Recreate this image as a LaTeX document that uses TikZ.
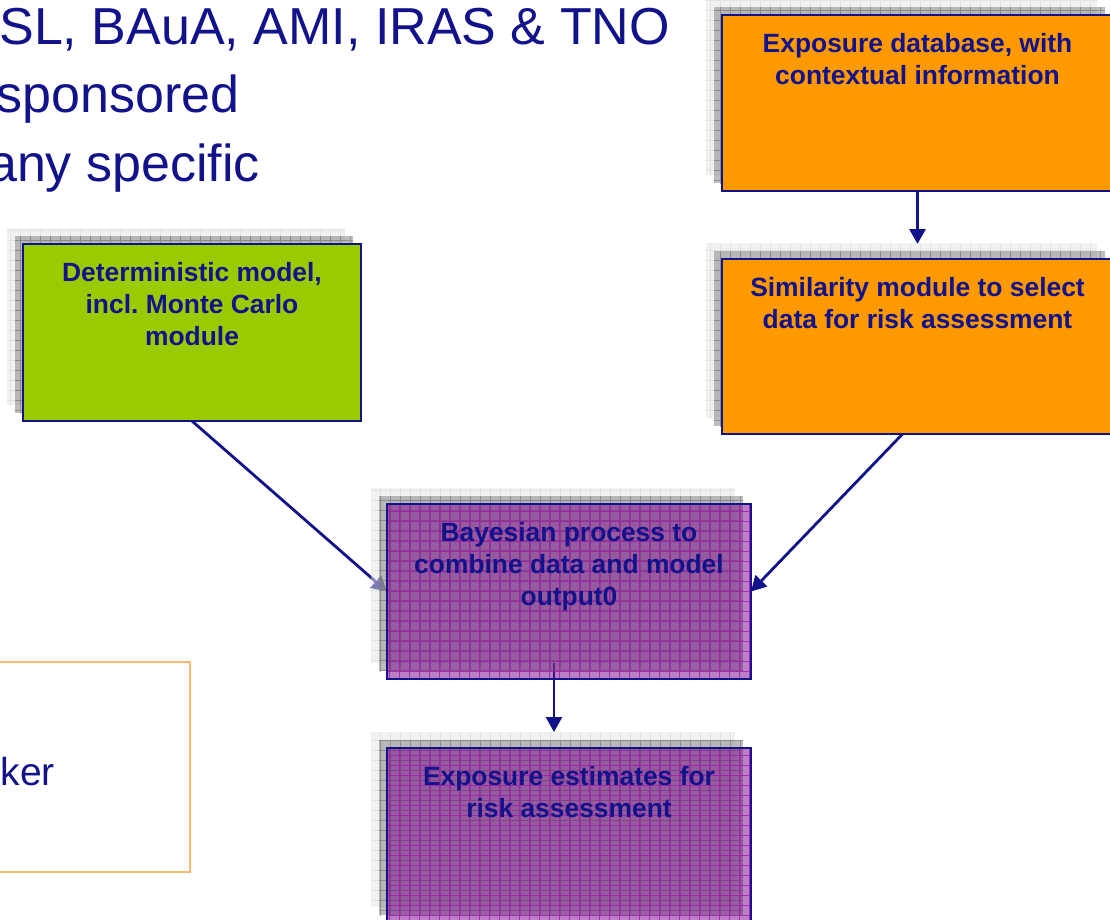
\documentclass[tikz,border=0pt]{standalone}
\usepackage{fontspec}
\setmainfont{Liberation Sans}
\usetikzlibrary{arrows.meta,calc}

\definecolor{navy}{RGB}{18,18,138}
\definecolor{orangefill}{RGB}{255,153,0}
\definecolor{greenfill}{RGB}{153,204,0}
\definecolor{plum}{RGB}{120,0,135}
\definecolor{plumgrid}{RGB}{165,25,175}
\definecolor{shadowlight}{RGB}{228,228,228}
\definecolor{shadowlightgrid}{RGB}{210,210,210}
\definecolor{shadowdark}{RGB}{125,125,125}
\definecolor{shadowdarkgrid}{RGB}{105,105,105}
\definecolor{noteline}{RGB}{255,185,115}

\pgfdeclarelayer{links}
\pgfsetlayers{links,main}

\tikzset{
  panel/.style={draw=navy, line width=2.4pt, inner sep=0pt, outer sep=0pt},
  orangebox/.style={panel, fill=orangefill},
  greenbox/.style={panel, fill=greenfill},
  plumbox/.style={panel, fill=plum, fill opacity=0.5,
    path picture={\draw[plumgrid, line width=0.8pt, draw opacity=0.8,
        xstep=10pt, ystep=10pt]
      ([shift={(-10pt,-10pt)}]path picture bounding box.south west) grid
      ([shift={(10pt,10pt)}]path picture bounding box.north east);}},
  hatch/.style={line width=0.7pt, xstep=10pt, ystep=10pt},
  paneltext/.style={text=navy, font=\bfseries\fontsize{26.4}{32}\selectfont,
    align=center, inner sep=0pt, anchor=north},
  bigtext/.style={text=navy, font=\fontsize{52}{62}\selectfont, inner sep=0pt},
  link/.style={draw=navy, line width=2.8pt,
    -{Triangle[length=15pt,width=16pt]}},
}

% a box with its two hatched drop shadows and its caption
\newcommand\panel[7]{%
  \path[fill=shadowlight, opacity=0.5,
    path picture={\draw[hatch, shadowlightgrid]
      (#2-30,#3-30) grid (#2+#4,#3+#5);}]
    (#2-16,#3-16) rectangle ++(#4,#5);
  \path[fill=shadowdark, opacity=0.5,
    path picture={\draw[hatch, shadowdarkgrid]
      (#2-30,#3-30) grid (#2+#4,#3+#5);}]
    (#2-8,#3-8) rectangle ++(#4,#5);
  \node[#6, minimum width=#4pt, minimum height=#5pt, anchor=north west]
    (#1) at (#2,#3) {};
  \node[paneltext] (#1-text) at ([yshift=-18pt]#1.north) {#7};
}

\begin{document}
\begin{tikzpicture}[x=1pt,y=-1pt]
  \useasboundingbox (0,0) rectangle (1110,919);

  % slide text behind the chart
  \node[bigtext, anchor=base east] (line1) at (670,44) {SL, BAuA, AMI, IRAS \& TNO};
  \node[bigtext, anchor=base east] (line2) at (240,112) {sponsored};
  \node[bigtext, anchor=base east] (line3) at (260,181) {any specific};

  \node[draw=noteline, line width=2pt, minimum width=215pt, minimum height=210pt,
        anchor=north east, inner sep=0pt] (note) at (191,661) {};
  \node[text=navy, font=\fontsize{39}{46}\selectfont, inner sep=0pt,
        anchor=base east] (note-text) at (55,785) {ker};

  % the boxes
  \panel{db}{722}{15}{391}{176}{orangebox}{Exposure database, with\\contextual information}
  \panel{sim}{722}{259}{391}{175}{orangebox}{Similarity module to select\\data for risk assessment}
  \panel{model}{23}{244}{338}{177}{greenbox}{Deterministic model,\\incl.\ Monte Carlo\\module}
  \panel{bayes}{387}{504}{364}{175}{plumbox}{Bayesian process to\\combine data and model\\output0}
  \panel{estim}{387}{748}{364}{175}{plumbox}{Exposure estimates for\\risk assessment}

  % connectors, kept underneath the boxes and their shadows
  \begin{pgfonlayer}{links}
    \draw[link] (db.south) -- ([yshift=15pt]sim.north -| db.south);
    \draw[link] ([xshift=-15pt]sim.south) -- (bayes.east);
    \draw[link] (model.south) -- (bayes.west);
    \draw[link] ([xshift=-15pt,yshift=16pt]bayes.south) -- ([xshift=-15pt,yshift=16pt]estim.north);
  \end{pgfonlayer}
\end{tikzpicture}
\end{document}
